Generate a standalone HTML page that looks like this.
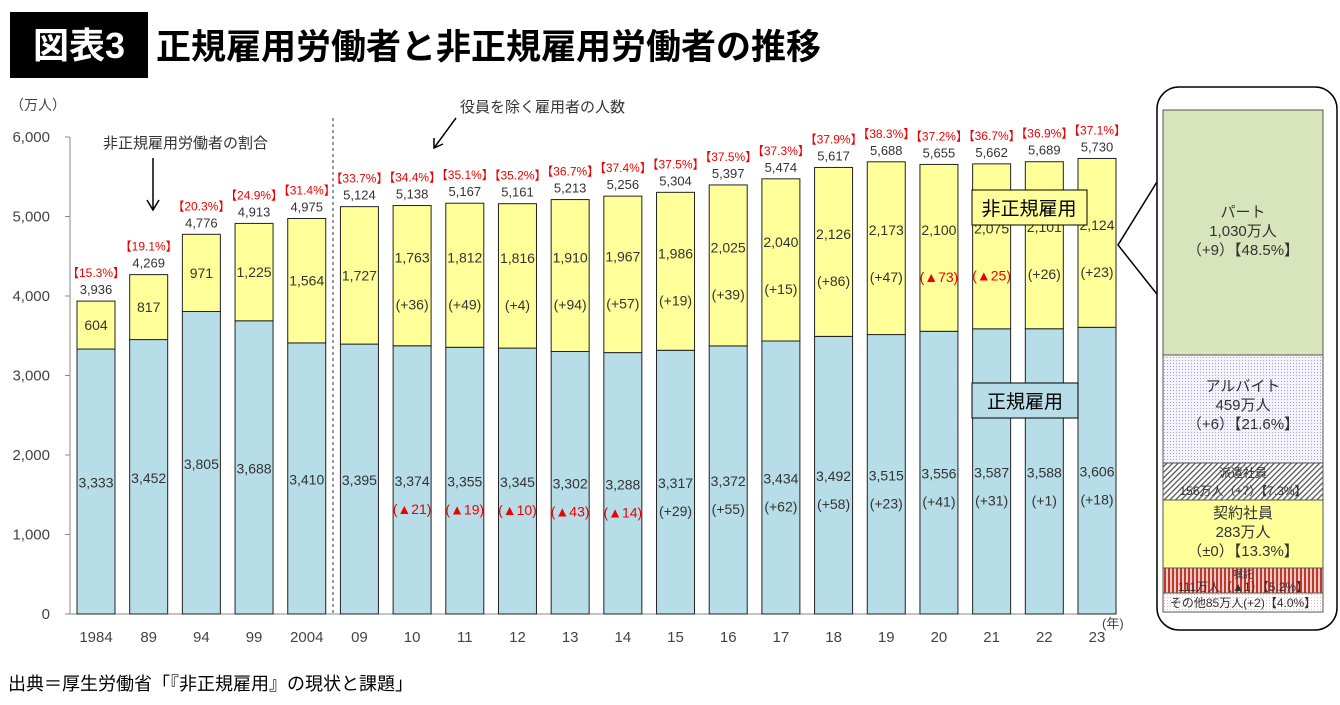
<!DOCTYPE html>
<html><head><meta charset="utf-8">
<style>
body{margin:0;background:#fff;width:1340px;height:700px;overflow:hidden;font-family:"Liberation Sans","Noto Sans CJK JP",sans-serif;}
svg text{font-family:"Liberation Sans","Noto Sans CJK JP",sans-serif;}
</style></head>
<body>
<svg id="chart" width="1340" height="700" xmlns="http://www.w3.org/2000/svg">
<defs>
<pattern id="dots" width="3" height="3" patternUnits="userSpaceOnUse"><rect width="3" height="3" fill="#f4f2fb"/><rect width="1" height="1" fill="#a9a3c8"/></pattern>
<pattern id="hatch" width="4" height="4" patternUnits="userSpaceOnUse" patternTransform="rotate(45)"><rect width="4" height="4" fill="#fff"/><rect width="1.3" height="4" fill="#555"/></pattern>
<pattern id="vstripe" width="4" height="4" patternUnits="userSpaceOnUse"><rect width="4" height="4" fill="#f6c9c9"/><rect width="2" height="4" fill="#c0392b"/></pattern>
<pattern id="odots" width="3" height="3" patternUnits="userSpaceOnUse"><rect width="3" height="3" fill="#fff"/><rect width="1" height="1" fill="#e6b7b7"/></pattern>
</defs>
<rect x="10" y="12" width="138" height="66" fill="#000"/>
<text x="79" y="58" fill="#fff" font-size="36" font-weight="bold" text-anchor="middle">図表3</text>
<text x="156" y="59" fill="#000" font-size="35" font-weight="bold">正規雇用労働者と非正規雇用労働者の推移</text>
<text x="10" y="110" font-size="14" fill="#444">（万人）</text>
<g id="axes"></g>
<g id="bars"></g>
<line x1="333" y1="118" x2="333" y2="614" stroke="#333" stroke-dasharray="3,3"/>
<text x="103" y="148" font-size="15" fill="#333">非正規雇用労働者の割合</text>
<line x1="153" y1="158" x2="153" y2="210" stroke="#000" stroke-width="1.5"/>
<polyline points="147,200 153,210 159,200" fill="none" stroke="#000" stroke-width="1.5"/>
<text x="460" y="112" font-size="15" fill="#333">役員を除く雇用者の人数</text>
<line x1="456" y1="118" x2="434" y2="148" stroke="#000" stroke-width="1.5"/>
<polyline points="434,138 434,148 443,144" fill="none" stroke="#000" stroke-width="1.5"/>
<rect x="972" y="190" width="115" height="35" fill="#ffff99" stroke="#000"/>
<text x="1029" y="215" font-size="19" text-anchor="middle">非正規雇用</text>
<rect x="972" y="383" width="106" height="35" fill="#b7dde8" stroke="#000"/>
<text x="1025" y="408" font-size="19" text-anchor="middle">正規雇用</text>
<text x="1102" y="628" font-size="13" fill="#444">(年)</text>
<polyline points="1160,177 1118,245 1160,298" fill="none" stroke="#000" stroke-width="1.5"/>
<rect x="1157" y="87" width="180" height="543" rx="22" fill="#fff" stroke="#000" stroke-width="1.5"/>
<g font-size="15" text-anchor="middle" fill="#333">
<rect x="1163" y="110" width="160" height="245" fill="#d8e4bc" stroke="#555"/>
<text x="1243" y="217">パート</text><text x="1243" y="236">1,030万人</text><text x="1243" y="255">（+9）【48.5%】</text>
<rect x="1163" y="355" width="160" height="108" fill="url(#dots)" stroke="#555"/>
<text x="1243" y="391">アルバイト</text><text x="1243" y="410">459万人</text><text x="1243" y="429">（+6）【21.6%】</text>
<rect x="1163" y="463" width="160" height="37" fill="url(#hatch)" stroke="#555"/>
<text x="1243" y="477" font-size="12">派遣社員</text><text x="1243" y="495" font-size="12">156万人（+7）【7.3%】</text>
<rect x="1163" y="500" width="160" height="68" fill="#ffff99" stroke="#555"/>
<text x="1243" y="518">契約社員</text><text x="1243" y="537">283万人</text><text x="1243" y="556">（±0）【13.3%】</text>
<rect x="1163" y="568" width="160" height="25" fill="url(#vstripe)" stroke="#555"/>
<text x="1243" y="578" font-size="10">嘱託</text><text x="1243" y="591" font-size="12">111万人（▲1）【5.2%】</text>
<rect x="1163" y="593" width="160" height="19" fill="url(#odots)" stroke="#555"/>
<text x="1243" y="607" font-size="12">その他85万人(+2)【4.0%】</text>
</g>
<text x="8" y="690" font-size="18" fill="#000">出典＝厚生労働省「『非正規雇用』の現状と課題」</text>
</svg>
<script>
const years=["1984","89","94","99","2004","09","10","11","12","13","14","15","16","17","18","19","20","21","22","23"];
const totals=[3936,4269,4776,4913,4975,5124,5138,5167,5161,5213,5256,5304,5397,5474,5617,5688,5655,5662,5689,5730];
const nonregular=[604,817,971,1225,1564,1727,1763,1812,1816,1910,1967,1986,2025,2040,2126,2173,2100,2075,2101,2124];
const regular=[3333,3452,3805,3688,3410,3395,3374,3355,3345,3302,3288,3317,3372,3434,3492,3515,3556,3587,3588,3606];
const ratios=["15.3","19.1","20.3","24.9","31.4","33.7","34.4","35.1","35.2","36.7","37.4","37.5","37.5","37.3","37.9","38.3","37.2","36.7","36.9","37.1"];
const nonregChange=["","","","","","","+36","+49","+4","+94","+57","+19","+39","+15","+86","+47","▲73","▲25","+26","+23"];
const regChange=["","","","","","","▲21","▲19","▲10","▲43","▲14","+29","+55","+62","+58","+23","+41","+31","+1","+18"];
const yTicks=[0,1000,2000,3000,4000,5000,6000];

const NS="http://www.w3.org/2000/svg";
const y=v=>614-v*(477/6000);
const x=i=>96+i*(1001/19);
const BW=38;
function mk(tag,attrs,parent,txt){const e=document.createElementNS(NS,tag);for(const k in attrs)e.setAttribute(k,attrs[k]);if(txt!==undefined)e.textContent=txt;parent.appendChild(e);return e;}
const axes=document.getElementById('axes'),bars=document.getElementById('bars');
let a=mk('line',{x1:70,y1:y(6000),x2:70,y2:614,stroke:'#888'},axes);


a=mk('line',{x1:70,y1:614,x2:1110,y2:614,stroke:'#888'},axes);


yTicks.forEach(t=>{
  mk('line',{x1:65,y1:y(t),x2:70,y2:y(t),stroke:'#888'},axes);
  const e=mk('text',{x:50,y:y(t)+5,'font-size':15,fill:'#444','text-anchor':'end'},axes,t.toLocaleString('en-US'));
  
  
});
years.forEach((yr,i)=>{
  const cx=x(i),l=cx-BW/2;
  const g=mk('g',{},bars);
  
  
  const r=mk('rect',{x:l,y:y(regular[i]),width:BW,height:614-y(regular[i]),fill:'#b7dde8',stroke:'#222','stroke-width':1},g);
  
  
  const top=totals[i];
  const n=mk('rect',{x:l,y:y(top),width:BW,height:y(regular[i])-y(top),fill:'#ffff99',stroke:'#222','stroke-width':1},g);
  
  
  const ym=(y(top)+y(regular[i]))/2;
  const hasNC=nonregChange[i]!=="";
  mk('text',{x:cx,y:hasNC?ym-13:ym+5,'font-size':14,'text-anchor':'middle',fill:'#333'},g,nonregular[i].toLocaleString('en-US'));
  if(hasNC){const neg=nonregChange[i][0]==='▲';mk('text',{x:cx,y:ym+34,'font-size':14,'text-anchor':'middle',fill:neg?'#e00':'#333'},g,'('+nonregChange[i]+')');}
  const ry=(y(regular[i])+614)/2;
  const hasRC=regChange[i]!=="";
  mk('text',{x:cx,y:ry+6,'font-size':14,'text-anchor':'middle',fill:'#333'},g,regular[i].toLocaleString('en-US'));
  if(hasRC){const neg=regChange[i][0]==='▲';mk('text',{x:cx,y:ry+34,'font-size':14,'text-anchor':'middle',fill:neg?'#e00':'#333'},g,'('+regChange[i]+')');}
  mk('text',{x:cx,y:y(top)-7,'font-size':13,'text-anchor':'middle',fill:'#333'},g,top.toLocaleString('en-US'));
  mk('text',{x:cx,y:y(top)-24,'font-size':12,'text-anchor':'middle',fill:'#e00'},g,'【'+ratios[i]+'%】');
  const xl=mk('text',{x:cx,y:642,'font-size':15,'text-anchor':'middle',fill:'#444'},axes,yr);
  
  
});
</script>
</body></html>
